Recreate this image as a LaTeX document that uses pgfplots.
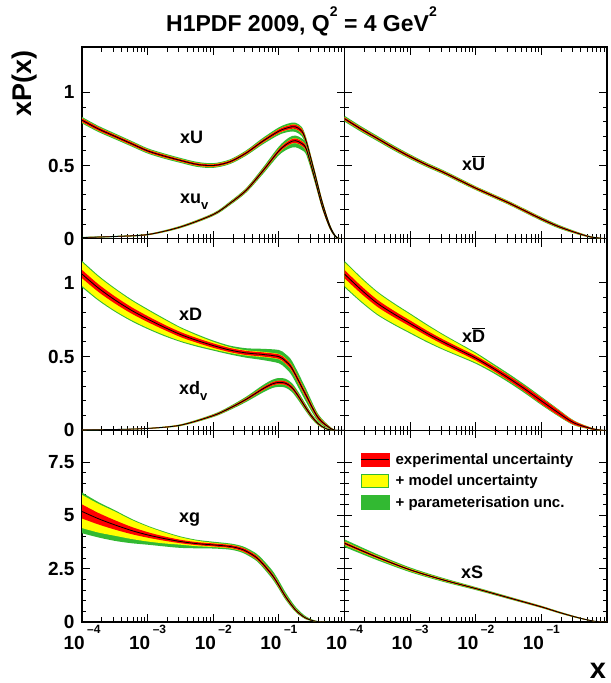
\documentclass[border=0pt]{standalone}
\usepackage{pgfplots}
\pgfplotsset{compat=1.18}
\usepgfplotslibrary{fillbetween}
\usepackage{pgfplotstable}
\usepackage{fontspec}
\setmainfont{Liberation Sans}
\definecolor{pgreen}{RGB}{50,185,50}
\definecolor{pred}{RGB}{255,0,0}
\definecolor{pyellow}{RGB}{255,255,0}
\newcommand\fs[1]{\fontsize{#1}{#1}\selectfont}
\newcommand\xl[1]{10\hspace{2.5pt}\raisebox{15.5pt}{\fs{12}#1}}

% columns: x, central value, exp half-width, model (cum.) up/down, param (cum.) up/down
\pgfplotstableread{
x c e mu ml pu pl
1e-4 0.81 0.012 0.014 0.014 0.022 0.022
1.778e-4 0.75 0.011 0.013 0.013 0.021 0.021
3.162e-4 0.70 0.010 0.012 0.012 0.020 0.020
5.623e-4 0.65 0.010 0.012 0.012 0.019 0.019
1e-3 0.60 0.009 0.011 0.011 0.018 0.018
1.778e-3 0.565 0.009 0.011 0.011 0.018 0.018
3.162e-3 0.535 0.008 0.010 0.010 0.017 0.017
5.623e-3 0.508 0.008 0.010 0.010 0.017 0.017
0.01 0.50 0.008 0.010 0.010 0.016 0.016
0.01778 0.525 0.008 0.010 0.010 0.016 0.016
0.03162 0.585 0.009 0.011 0.011 0.018 0.018
0.05623 0.665 0.010 0.012 0.012 0.022 0.022
0.1 0.735 0.012 0.014 0.014 0.026 0.026
0.1413 0.76 0.013 0.015 0.015 0.028 0.030
0.1778 0.765 0.014 0.016 0.016 0.028 0.035
0.2239 0.735 0.015 0.017 0.017 0.028 0.035
0.263 0.66 0.015 0.017 0.017 0.025 0.030
0.3467 0.46 0.012 0.014 0.014 0.020 0.020
0.4571 0.25 0.010 0.012 0.012 0.016 0.016
0.6026 0.085 0.006 0.007 0.007 0.010 0.010
0.7586 0.01 0.002 0.003 0.003 0.004 0.004
1 0 0 0 0 0 0
}\tabU
\pgfplotstableread{
x c e mu ml pu pl
1e-4 0.008 0.002 0.002 0.002 0.004 0.004
3.162e-4 0.015 0.002 0.002 0.002 0.004 0.004
1e-3 0.028 0.003 0.003 0.003 0.005 0.005
3.162e-3 0.08 0.004 0.005 0.005 0.008 0.008
0.01 0.165 0.005 0.006 0.006 0.010 0.010
0.01778 0.24 0.006 0.007 0.007 0.013 0.013
0.03162 0.33 0.008 0.009 0.009 0.016 0.016
0.05623 0.46 0.010 0.011 0.011 0.022 0.022
0.1 0.60 0.012 0.014 0.014 0.030 0.030
0.1413 0.655 0.014 0.016 0.016 0.035 0.040
0.1778 0.67 0.015 0.017 0.017 0.035 0.045
0.2239 0.65 0.015 0.017 0.017 0.035 0.045
0.263 0.61 0.015 0.017 0.017 0.032 0.040
0.3467 0.42 0.012 0.014 0.014 0.025 0.025
0.4571 0.22 0.010 0.012 0.012 0.016 0.016
0.6026 0.073 0.006 0.007 0.007 0.010 0.010
0.7586 0.008 0.002 0.003 0.003 0.004 0.004
1 0 0 0 0 0 0
}\tabuv
\pgfplotstableread{
x c e mu ml pu pl
1e-4 0.82 0.009 0.011 0.011 0.020 0.020
1.778e-4 0.75 0.009 0.011 0.011 0.019 0.019
3.162e-4 0.685 0.008 0.010 0.010 0.018 0.018
5.623e-4 0.62 0.008 0.010 0.010 0.017 0.017
1e-3 0.56 0.008 0.010 0.010 0.016 0.016
1.778e-3 0.505 0.007 0.009 0.009 0.015 0.015
3.162e-3 0.455 0.007 0.009 0.009 0.014 0.014
5.623e-3 0.40 0.007 0.009 0.009 0.014 0.014
0.01 0.345 0.007 0.009 0.009 0.013 0.013
0.01778 0.295 0.007 0.009 0.009 0.013 0.013
0.03162 0.245 0.007 0.009 0.009 0.013 0.013
0.05623 0.19 0.007 0.009 0.009 0.013 0.013
0.1 0.135 0.007 0.008 0.008 0.013 0.013
0.1778 0.085 0.006 0.007 0.007 0.012 0.012
0.3162 0.045 0.005 0.006 0.006 0.009 0.009
0.5623 0.012 0.003 0.003 0.003 0.005 0.005
1 0 0 0 0 0 0
}\tabUb
\pgfplotstableread{
x c e mu ml pu pl
1e-4 1.06 0.028 0.080 0.080 0.090 0.090
1.778e-4 0.965 0.026 0.076 0.076 0.085 0.085
3.162e-4 0.885 0.024 0.072 0.072 0.080 0.080
5.623e-4 0.815 0.022 0.066 0.066 0.074 0.074
1e-3 0.755 0.020 0.060 0.060 0.068 0.068
1.778e-3 0.70 0.018 0.052 0.052 0.060 0.060
3.162e-3 0.65 0.017 0.043 0.043 0.050 0.050
5.623e-3 0.61 0.016 0.034 0.034 0.042 0.042
0.01 0.575 0.015 0.026 0.026 0.034 0.034
0.01778 0.545 0.014 0.020 0.020 0.030 0.030
0.03162 0.525 0.014 0.018 0.018 0.032 0.032
0.05623 0.515 0.014 0.018 0.018 0.038 0.038
0.1 0.50 0.015 0.018 0.018 0.045 0.045
0.1259 0.47 0.016 0.019 0.019 0.048 0.048
0.1585 0.42 0.017 0.020 0.020 0.050 0.050
0.2512 0.25 0.017 0.020 0.020 0.045 0.045
0.3981 0.085 0.012 0.014 0.014 0.025 0.025
0.631 0.01 0.004 0.005 0.005 0.008 0.008
0.7943 0 0 0 0 0 0
1 0 0 0 0 0 0
}\tabD
\pgfplotstableread{
x c e mu ml pu pl
1e-4 0.003 0.001 0.001 0.001 0.002 0.002
3.162e-4 0.006 0.001 0.001 0.001 0.002 0.002
1e-3 0.013 0.002 0.002 0.002 0.003 0.003
3.162e-3 0.035 0.003 0.004 0.004 0.006 0.006
0.01 0.10 0.005 0.006 0.006 0.010 0.010
0.01778 0.15 0.006 0.007 0.007 0.013 0.013
0.03162 0.21 0.008 0.009 0.009 0.018 0.018
0.05623 0.28 0.010 0.011 0.011 0.025 0.025
0.07943 0.315 0.011 0.012 0.012 0.028 0.028
0.1 0.325 0.012 0.013 0.013 0.030 0.030
0.1259 0.32 0.012 0.013 0.013 0.030 0.030
0.1585 0.29 0.012 0.013 0.013 0.030 0.030
0.1995 0.23 0.012 0.013 0.013 0.028 0.028
0.2512 0.16 0.011 0.012 0.012 0.024 0.024
0.3162 0.095 0.009 0.010 0.010 0.018 0.018
0.3981 0.045 0.006 0.007 0.007 0.012 0.012
0.5012 0.015 0.003 0.004 0.004 0.006 0.006
0.631 0.002 0.001 0.001 0.001 0.002 0.002
1 0 0 0 0 0 0
}\tabdv
\pgfplotstableread{
x c e mu ml pu pl
1e-4 1.06 0.028 0.080 0.080 0.090 0.090
1.778e-4 0.955 0.026 0.076 0.076 0.085 0.085
3.162e-4 0.862 0.024 0.072 0.072 0.080 0.080
5.623e-4 0.79 0.022 0.066 0.066 0.074 0.074
1e-3 0.725 0.020 0.060 0.060 0.068 0.068
1.778e-3 0.66 0.018 0.053 0.053 0.061 0.061
3.162e-3 0.60 0.017 0.046 0.046 0.053 0.053
5.623e-3 0.545 0.016 0.038 0.038 0.045 0.045
0.01 0.49 0.016 0.030 0.030 0.038 0.038
0.01778 0.425 0.016 0.022 0.022 0.032 0.032
0.03162 0.355 0.017 0.019 0.019 0.030 0.030
0.05623 0.28 0.018 0.019 0.019 0.029 0.029
0.1 0.20 0.020 0.021 0.021 0.028 0.028
0.1778 0.122 0.018 0.019 0.019 0.024 0.024
0.3162 0.05 0.012 0.013 0.013 0.016 0.016
0.631 0.008 0.004 0.004 0.004 0.005 0.005
1 0 0 0 0 0 0
}\tabDb
\pgfplotstableread{
x c e mu ml pu pl
1e-4 5.19 0.33 0.78 0.78 0.89 1.02
1.778e-4 4.85 0.27 0.70 0.65 0.78 0.88
3.162e-4 4.56 0.22 0.63 0.51 0.69 0.75
5.623e-4 4.30 0.17 0.50 0.40 0.55 0.60
1e-3 4.09 0.13 0.39 0.31 0.43 0.46
1.778e-3 3.92 0.10 0.29 0.23 0.33 0.37
3.162e-3 3.78 0.08 0.20 0.15 0.24 0.30
5.623e-3 3.68 0.07 0.14 0.12 0.18 0.22
0.01 3.62 0.07 0.10 0.10 0.15 0.17
0.01778 3.55 0.07 0.09 0.09 0.14 0.15
0.02512 3.45 0.075 0.09 0.09 0.15 0.15
0.03162 3.33 0.08 0.09 0.09 0.16 0.16
0.04467 3.05 0.08 0.09 0.09 0.18 0.16
0.05623 2.75 0.08 0.09 0.09 0.20 0.17
0.07943 2.20 0.08 0.09 0.09 0.22 0.18
0.1 1.72 0.08 0.09 0.09 0.22 0.17
0.1259 1.20 0.07 0.08 0.08 0.20 0.15
0.1778 0.58 0.05 0.06 0.06 0.15 0.10
0.2512 0.20 0.03 0.035 0.035 0.09 0.06
0.3548 0.04 0.01 0.012 0.012 0.03 0.02
0.5012 0 0 0 0 0.005 0
1 0 0 0 0 0 0
}\tabg
\pgfplotstableread{
x c e mu ml pu pl
1e-4 3.70 0.06 0.08 0.08 0.18 0.18
3.162e-4 3.04 0.05 0.07 0.07 0.14 0.14
1e-3 2.45 0.04 0.06 0.06 0.11 0.11
3.162e-3 1.98 0.035 0.05 0.05 0.09 0.09
0.01 1.57 0.03 0.04 0.04 0.07 0.07
0.03162 1.14 0.03 0.035 0.035 0.06 0.06
0.1 0.71 0.03 0.035 0.035 0.05 0.05
0.1778 0.47 0.025 0.03 0.03 0.045 0.045
0.3162 0.25 0.02 0.022 0.022 0.035 0.035
0.5012 0.10 0.012 0.014 0.014 0.02 0.02
0.7079 0.02 0.005 0.006 0.006 0.008 0.008
1 0 0 0 0 0 0
}\tabS

\newcommand\band[2]{%
\addplot[draw=none,smooth,forget plot,name path=#2pa] table[x=x,y expr=\thisrow{c}+\thisrow{pu}]{#1};
\addplot[draw=none,smooth,forget plot,name path=#2pb] table[x=x,y expr=\thisrow{c}-\thisrow{pl}]{#1};
\addplot[fill=pgreen,draw=none,forget plot] fill between[of=#2pa and #2pb];
\addplot[draw=none,smooth,forget plot,name path=#2ma] table[x=x,y expr=\thisrow{c}+\thisrow{mu}]{#1};
\addplot[draw=none,smooth,forget plot,name path=#2mb] table[x=x,y expr=\thisrow{c}-\thisrow{ml}]{#1};
\addplot[fill=pyellow,draw=none,forget plot] fill between[of=#2ma and #2mb];
\addplot[draw=none,smooth,forget plot,name path=#2ea] table[x=x,y expr=\thisrow{c}+\thisrow{e}]{#1};
\addplot[draw=none,smooth,forget plot,name path=#2eb] table[x=x,y expr=\thisrow{c}-\thisrow{e}]{#1};
\addplot[fill=pred,draw=none,forget plot] fill between[of=#2ea and #2eb];
\addplot[black,line width=0.8pt,smooth,forget plot] table[x=x,y=c]{#1};
}

\pgfplotsset{hpanel/.style={
  scale only axis, width=262.5pt, height=191.67pt,
  anchor=north west, xmin=1e-4, xmax=1,
  axis line style={line width=1.6pt},
  tick align=inside, xtick pos=both, ytick pos=both,
  major tick length=8pt, minor tick length=4.5pt,
  tick style={black, line width=0.9pt},
  xtick={1e-4,1e-3,1e-2,1e-1,1},
  tick label style={font=\fs{19}\bfseries},
  yticklabel style={xshift=-4pt},
  minor y tick num=4,
}}

\begin{document}
\begin{tikzpicture}
% top left
\begin{semilogxaxis}[hpanel, at={(82pt,-47pt)}, ymin=0, ymax=1.31, ytick={0,0.5,1}, yticklabels={0,0.5,1}, xticklabels={}]
\band{\tabU}{a}
\band{\tabuv}{b}
\end{semilogxaxis}
% top right
\begin{semilogxaxis}[hpanel, at={(344.5pt,-47pt)}, ymin=0, ymax=1.31, ytick={0,0.5,1}, yticklabels={}, xticklabels={}]
\band{\tabUb}{c}
\end{semilogxaxis}
% middle left
\begin{semilogxaxis}[hpanel, at={(82pt,-238.67pt)}, ymin=0, ymax=1.3, ytick={0,0.5,1}, yticklabels={0,0.5,1}, xticklabels={}]
\band{\tabD}{d}
\band{\tabdv}{e}
\end{semilogxaxis}
% middle right
\begin{semilogxaxis}[hpanel, at={(344.5pt,-238.67pt)}, ymin=0, ymax=1.3, ytick={0,0.5,1}, yticklabels={}, xticklabels={}]
\band{\tabDb}{f}
\end{semilogxaxis}
% bottom left
\begin{semilogxaxis}[hpanel, at={(82pt,-430.33pt)}, ymin=0, ymax=9, ytick={0,2.5,5,7.5}, yticklabels={0,2.5,5,7.5},
  xticklabels={\xl{--4},\xl{--3},\xl{--2},\xl{--1},{}}]
\band{\tabg}{g}
\end{semilogxaxis}
% bottom right
\begin{semilogxaxis}[hpanel, at={(344.5pt,-430.33pt)}, ymin=0, ymax=9, ytick={0,2.5,5,7.5}, yticklabels={},
  xticklabels={\xl{--4},\xl{--3},\xl{--2},\xl{--1},{}},
  legend style={at={(0.06,0.89)}, anchor=north west, draw=none, fill=none,
    font=\fs{15}\bfseries, row sep=5pt, inner sep=0pt,
    /tikz/every odd column/.append style={column sep=4pt}},
  legend cell align=left]
\addlegendimage{legend image code/.code={\fill[pred] (0pt,-6.5pt) rectangle (28pt,6.5pt); \draw[black,line width=1.2pt] (0pt,0pt) -- (28pt,0pt);}}
\addlegendentry{experimental uncertainty}
\addlegendimage{legend image code/.code={\filldraw[fill=pyellow,draw=pgreen,line width=1.2pt] (0.6pt,-6.5pt) rectangle (27.4pt,6.5pt);}}
\addlegendentry{+ model uncertainty}
\addlegendimage{legend image code/.code={\fill[pgreen] (0pt,-7pt) rectangle (28pt,7pt);}}
\addlegendentry{+ parameterisation unc.}
\band{\tabS}{h}
\end{semilogxaxis}

% curve labels
\begin{scope}[every node/.style={inner sep=0pt, font=\fs{18}\bfseries}]
\node[anchor=base west] at (180pt,-143pt) {xU};
\node[anchor=base west] at (180pt,-203pt) {xu\raisebox{-6pt}{\fs{13}v}};
\node[anchor=base west] at (462pt,-170pt) {x$\overline{\mbox{U}}$};
\node[anchor=base west] at (179pt,-320pt) {xD};
\node[anchor=base west] at (179pt,-394pt) {xd\raisebox{-6pt}{\fs{13}v}};
\node[anchor=base west] at (462pt,-342pt) {x$\overline{\mbox{D}}$};
\node[anchor=base west] at (179pt,-522pt) {xg};
\node[anchor=base west] at (461pt,-578pt) {xS};
\end{scope}

% titles
\node[anchor=base west, inner sep=0pt] at (166pt,-31pt) {\fs{23}\bfseries H1PDF 2009, Q\raisebox{15pt}{\fs{14}2} = 4 GeV\raisebox{15pt}{\fs{14}2}};
\node[rotate=90, anchor=base west, inner sep=0pt] at (31pt,-117pt) {\fs{27}\bfseries xP(x)};
\node[anchor=base, inner sep=0pt] at (598pt,-678pt) {\fs{29}\bfseries x};
\path (0pt,0pt) rectangle (608pt,-683pt);
\end{tikzpicture}
\end{document}
